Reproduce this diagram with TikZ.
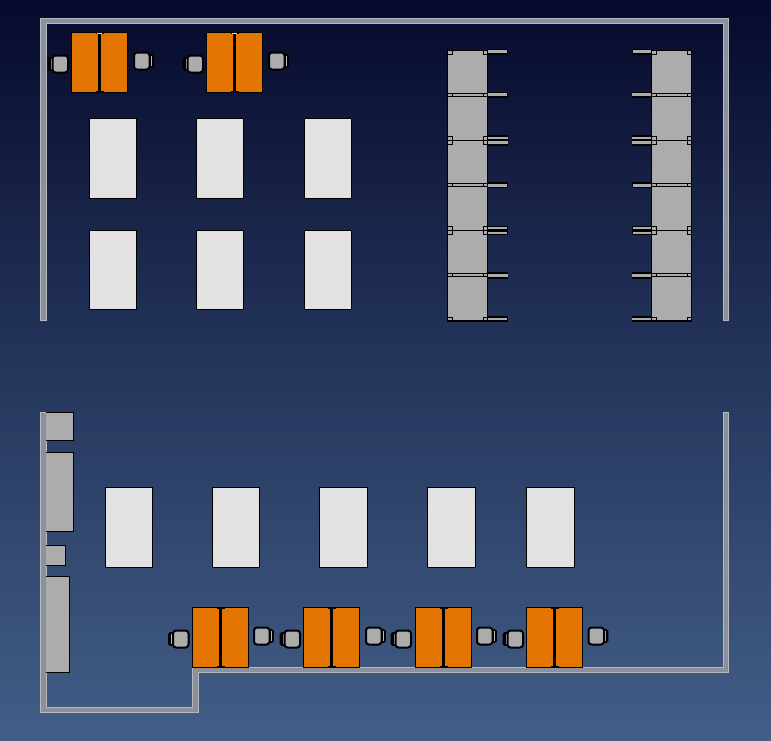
\documentclass[tikz,border=0pt]{standalone}
\definecolor{bgtop}{RGB}{6,10,44}
\definecolor{bgmid}{RGB}{37,54,92}
\definecolor{bgbot}{RGB}{66,94,135}
\definecolor{wallfill}{RGB}{140,144,156}
\definecolor{walledge}{RGB}{182,185,190}
\definecolor{deskorange}{RGB}{228,117,0}
\definecolor{tablewhite}{RGB}{226,226,226}
\definecolor{unitgray}{RGB}{172,172,172}
\tikzset{
  wall/.style={fill=wallfill,draw=walledge,line width=1pt},
  desk/.style={fill=deskorange,draw=black,line width=1pt},
  tablebox/.style={fill=tablewhite,draw=black,line width=1pt},
  unit/.style={fill=unitgray,draw=black,line width=1pt},
  seat/.style={fill=unitgray,draw=black,line width=2pt,rounded corners=3pt},
  chairback/.style={fill=black,draw=black,line width=.6pt,rounded corners=1.5pt},
  backline/.style={draw=walledge,line width=.8pt},
  divider/.style={draw=black,line width=1pt},
  armfill/.style={fill=unitgray,draw=none}
}
% orange double desk: left x, top y
\newcommand{\dbldesk}[2]{
  \begin{scope}[shift={(#1,#2)}]
    \draw[desk] (0,0) rectangle (56,60);
    \fill[black] (26.6,0) rectangle (29.8,60);
    \fill[black] (24,-.5) rectangle (32.4,1.5);
    \fill[black] (24,58.5) rectangle (32.4,60.5);
  \end{scope}}
% chairs: seat left x, seat top y
\newcommand{\chairleft}[2]{
  \begin{scope}[shift={(#1,#2)}]
    \draw[chairback] (-4,2) rectangle (3,15);
    \draw[backline] (-1,3.5) -- (-1,13.5);
    \draw[seat] (0.5,0) rectangle (16,17);
  \end{scope}}
\newcommand{\chairright}[2]{
  \begin{scope}[shift={(#1,#2)}]
    \draw[chairback] (12,2) rectangle (19.5,15);
    \draw[backline] (17,3.5) -- (17,13.5);
    \draw[seat] (0,0) rectangle (15.5,17);
  \end{scope}}
\newcommand{\whitetable}[2]{\draw[tablebox] (#1,#2) rectangle ++(47.5,79.5);}
% arms of a shelving unit, running from the unit edge outwards
\newcommand{\arms}[2]{
  \begin{scope}[shift={(#1,0)},xscale=#2]
    % row 50
    \fill[black] (0,49) rectangle (20,55);
    \fill[unitgray] (0,50) rectangle (19,53);
    % row 95
    \fill[black] (0,92) rectangle (20,98);
    \fill[unitgray] (0,93) rectangle (19.5,95.5);
    % row 140
    \fill[black] (0,135) rectangle (20,145.5);
    \fill[unitgray] (0,137) rectangle (20,139);
    \fill[unitgray] (0,141) rectangle (20,143.5);
    % row 185
    \fill[black] (0,182.3) rectangle (20,188);
    \fill[unitgray] (0,183.6) rectangle (19,186.6);
    % row 230
    \fill[black] (0,226) rectangle (20,235);
    \fill[unitgray] (0,227) rectangle (19,229);
    \fill[unitgray] (0,232) rectangle (19,234);
    % row 275
    \fill[black] (0,272) rectangle (20,278.5);
    \fill[unitgray] (0,274) rectangle (20,277.3);
    % row 320
    \fill[black] (0,316) rectangle (20,321.5);
    \fill[unitgray] (0,318) rectangle (19.5,320);
  \end{scope}}
% tall shelving unit: left x
\newcommand{\shelf}[1]{
  \begin{scope}[shift={(#1,0)}]
    \draw[unit] (0,50) rectangle (40,320.5);
    \draw[divider] (0,93.5) -- (40,93.5) (0,96.5) -- (40,96.5);
    \draw[divider] (0,140) -- (40,140);
    \draw[divider] (0,183.5) -- (40,183.5) (0,186.5) -- (40,186.5);
    \draw[divider] (0,230) -- (40,230);
    \draw[divider] (0,273.5) -- (40,273.5) (0,276.5) -- (40,276.5);
    \fill[black] (-.5,319.5) rectangle (40.5,321.5);
    \foreach \cx in {0,35.5}{
      \draw[black,line width=.9pt] (\cx,50) rectangle ++(4.5,4.5);
      \draw[black,line width=.9pt] (\cx,93.5) rectangle ++(4.5,3);
      \draw[black,line width=.9pt] (\cx,136.5) rectangle ++(4.5,7.5);
      \draw[black,line width=.9pt] (\cx,183.5) rectangle ++(4.5,3);
      \draw[black,line width=.9pt] (\cx,226.5) rectangle ++(4.5,8);
      \draw[black,line width=.9pt] (\cx,273.5) rectangle ++(4.5,3);
      \draw[black,line width=.9pt] (\cx,317) rectangle ++(4.5,3);
    }
  \end{scope}}
\begin{document}
\begin{tikzpicture}[x=1pt,y=-1pt]
\useasboundingbox (0,0) rectangle (771,740);
\shade[top color=bgtop,bottom color=bgbot,middle color=bgmid,shading angle=0] (0,0) rectangle (771,740);
% top room walls
\draw[wall] (40.5,320) -- (40.5,18.5) -- (728.5,18.5) -- (728.5,320.5) -- (723.5,320.5) -- (723.5,23.5) -- (46,23.5) -- (46,320) -- cycle;
% bottom room walls
\draw[wall] (40.5,412.5) -- (46,412.5) -- (46,707.5) -- (192.5,707.5) -- (192.5,667.5) -- (723.5,667.5) -- (723.5,412.5) -- (728.5,412.5) -- (728.5,672.5) -- (198,672.5) -- (198,712.5) -- (40.5,712.5) -- cycle;
% white tables
\foreach \tx in {89,196,304}{
  \whitetable{\tx}{118.5}
  \whitetable{\tx}{230}
}
\foreach \tx in {105,212,319.5,427.5,526.5}{
  \whitetable{\tx}{487.5}
}
% shelving
\arms{487.5}{1}
\arms{651.5}{-1}
\shelf{447.5}
\shelf{651.5}
% side units
\draw[unit] (46,412.5) -- (73.5,412.5) -- (73.5,440.5) -- (46,440.5);
\draw[unit] (46,452.5) -- (73.5,452.5) -- (73.5,531) -- (46,531);
\draw[unit] (46,545.5) -- (65.5,545.5) -- (65.5,565.5) -- (46,565.5);
\draw[unit] (46,576.5) -- (69.5,576.5) -- (69.5,672.5) -- (46,672.5);
% top desks and chairs
\dbldesk{71.5}{32.5}
\dbldesk{206.5}{32.5}
\draw[unitgray!40,line width=.8pt] (97,33.5) -- (102,33.5);
\draw[unitgray!40,line width=.8pt] (232,33.5) -- (237,33.5);
\chairleft{52}{55.5}
\chairright{134}{52.5}
\chairleft{187}{55.5}
\chairright{269}{52.5}
% bottom desks and chairs
\foreach \dx/\cl/\cr in {192.5/172.5/254,303.5/284/366,415.5/395/477,526.5/507/588.5}{
  \dbldesk{\dx}{607.5}
  \chairleft{\cl}{630.5}
  \chairright{\cr}{627.5}
}
\end{tikzpicture}
\end{document}
